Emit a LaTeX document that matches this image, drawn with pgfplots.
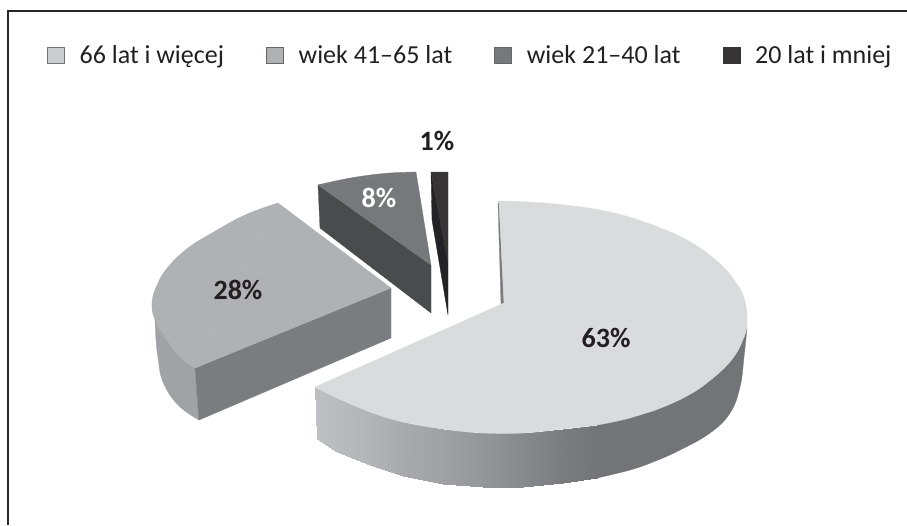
\documentclass[border=0pt]{standalone}
\usepackage{pgfplots}
\pgfplotsset{compat=1.18}
\usepackage{fontspec}
\setmainfont{Carlito}
\definecolor{ink}{HTML}{231F20}
\definecolor{top63}{HTML}{DADBDD}
\definecolor{dark63}{RGB}{115,116,120}
\definecolor{top28}{HTML}{B0B1B4}
\definecolor{side28}{HTML}{A1A2A6}
\definecolor{front28}{HTML}{7B7C80}
\definecolor{top8}{HTML}{77787C}
\definecolor{side8}{HTML}{4A4B4D}
\definecolor{top1}{HTML}{363435}
\definecolor{side1}{HTML}{232224}
\begin{document}
\begin{tikzpicture}
\path[use as bounding box] (0,0) rectangle (907pt,525pt);
\begin{axis}[
  at={(0,0)}, anchor=south west,
  scale only axis, width=907pt, height=525pt,
  xmin=0, xmax=907, ymin=0, ymax=525, y dir=reverse,
  hide axis,
  colormap={sidegrad}{rgb255=(115,116,120) rgb255=(190,191,194)},
  point meta min=0, point meta max=1,
  face/.style={fill=#1, draw=#1, line width=0.3pt, line join=round, no markers, forget plot},
  arc/.style={face=#1, smooth, tension=0.7},
  legend columns=4,
  legend cell align=left,
  legend style={draw=none, fill=none, at={(axis cs:47,55)}, anchor=west,
    inner sep=0pt, outer sep=0pt, font=\fontsize{26pt}{29pt}\selectfont,
    text=ink,
    nodes={inner sep=0pt, outer sep=0pt},
    /tikz/every odd column/.append style={column sep=15pt},
    /tikz/every even column/.append style={column sep=42pt}},
  legend image code/.code={\path[#1] (0pt,-8pt) rectangle (17pt,8pt);},
]
% frame, only top and left
\addplot[color=black!85, line width=1.5pt, forget plot] coordinates {(8,525) (8,11) (907,11)};

% 63%: side, dark part then gradient part
\addplot[arc=dark63] coordinates {
(747,328) (744,357) (740,387) (730,413) (710,433) (680,450) (653,462) (630,470) (597,478)} -- cycle;
\addplot[face=dark63] coordinates {(747,328) (597,478) (597,425)} -- cycle;
\addplot[surf, shader=interp, mesh/rows=2, point meta=explicit, forget plot] table[meta=c] {
x y c
597 425 0
563 429 0.1
523 433 0.28
483 433 0.45
443 429 0.6
403 422 0.72
370 412 0.85
337 398 0.95
315 387 1
597 478 0
563 483 0.1
523 487 0.28
483 487 0.45
443 484 0.6
403 476 0.72
370 465 0.85
337 452 0.95
317 439 1
};
\addplot[face=front28] coordinates {(498,203) (501,304) (504,304) (499,203)} -- cycle;
\addplot[arc=top63] coordinates {
(498,201) (530,202) (565,205) (600,210) (633,218) (653,225) (687,240) (717,261) (737,284) (745,302)
(747,322) (744,337)} -- cycle;
\addplot[arc=top63] coordinates {
(745,302) (747,322) (744,337) (733,358) (713,378) (687,396) (653,411) (630,418) (597,425) (563,429) (523,433)
(483,433) (443,429) (403,422) (370,412) (337,398) (315,387)} -- cycle;
\addplot[face=top63] coordinates {(498,201) (744,337) (315,387) (504,303) (499,203)} -- cycle;

% 28%
\addplot[arc=side28] coordinates {(155,320) (156,340) (158,358) (163,382) (178,405) (199,420)} -- cycle;
\addplot[face=side28] coordinates {(155,320) (199,420) (195,368)} -- cycle;
\addplot[face=front28] coordinates {(195,368) (391,288) (391,338) (199,420)} -- cycle;
\addplot[arc=top28] coordinates {
(278,203) (245,215) (212,233) (188,248) (168,267) (157,285) (152,303) (155,320) (165,337) (178,355) (195,368)} -- cycle;
\addplot[face=top28] coordinates {(278,203) (195,368) (391,288)} -- cycle;

% 8%
\addplot[face=side8] coordinates {(318,185) (320,228) (431,313) (431,265)} -- cycle;
\addplot[arc=top8] coordinates {(318,185) (340,180) (363,176) (390,173) (416,172)} -- cycle;
\addplot[face=top8] coordinates {(318,185) (416,172) (431,265)} -- cycle;

% 1%
\addplot[face=side1] coordinates {(431,172) (448,262) (448,315) (432,220)} -- cycle;
\addplot[face=top1] coordinates {(431,172) (448,172) (448,262)} -- cycle;

\addlegendimage{fill=top63!93!black, draw=black!55, line width=0.6pt}
\addlegendentry{66 lat i więcej}
\addlegendimage{fill=top28, draw=black!60, line width=0.6pt}
\addlegendentry{wiek 41--65 lat}
\addlegendimage{fill=top8, draw=black!60, line width=0.6pt}
\addlegendentry{wiek 21--40 lat}
\addlegendimage{fill=top1, draw=top1, line width=0.6pt}
\addlegendentry{20 lat i mniej}

\node[text=ink, font=\fontsize{28pt}{30pt}\selectfont\bfseries] at (axis cs:606,338) {63\%};
\node[text=ink, font=\fontsize{28pt}{30pt}\selectfont\bfseries] at (axis cs:238,290) {28\%};
\node[text=white, font=\fontsize{28pt}{30pt}\selectfont\bfseries] at (axis cs:379,198) {8\%};
\node[text=ink, font=\fontsize{28pt}{30pt}\selectfont\bfseries] at (axis cs:437,141) {1\%};
\end{axis}
\end{tikzpicture}
\end{document}
